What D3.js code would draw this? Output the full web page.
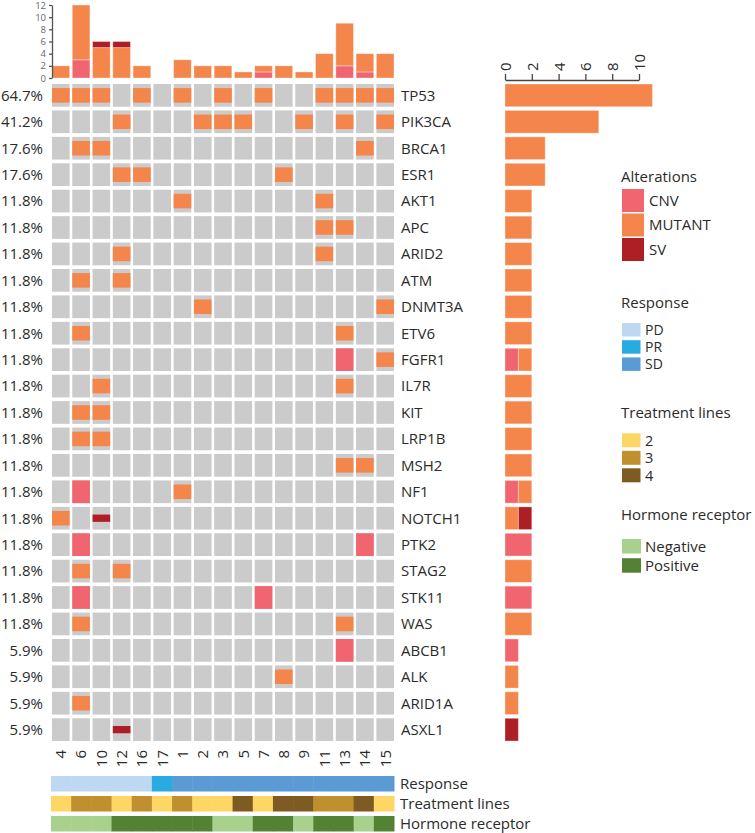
<!DOCTYPE html>
<html>
<head>
<meta charset="utf-8">
<script src="https://cdn.jsdelivr.net/npm/d3@7/dist/d3.min.js"></script>
<style>
  html, body { margin: 0; padding: 0; background: #ffffff; }
  svg { display: block; font-family: "Open Sans", "Noto Sans", sans-serif; }
</style>
</head>
<body>
<svg id="chart" width="755" height="833"></svg>
<script>
// ---------------- DATA ----------------
const samples = ["4","6","10","12","16","17","1","2","3","5","7","8","9","11","13","14","15"];
const genes = ["TP53","PIK3CA","BRCA1","ESR1","AKT1","APC","ARID2","ATM","DNMT3A","ETV6","FGFR1","IL7R","KIT","LRP1B","MSH2","NF1","NOTCH1","PTK2","STAG2","STK11","WAS","ABCB1","ALK","ARID1A","ASXL1"];
const percents = ["64.7%","41.2%","17.6%","17.6%","11.8%","11.8%","11.8%","11.8%","11.8%","11.8%","11.8%","11.8%","11.8%","11.8%","11.8%","11.8%","11.8%","11.8%","11.8%","11.8%","11.8%","5.9%","5.9%","5.9%","5.9%"];
// one string per gene, one character per sample: M = MUTANT, C = CNV, S = SV, . = none
const alterationRows = [
  "MMM.M.M.M.M..MMMM", // TP53
  "...M...MMM..M.M.M", // PIK3CA
  ".MM............M.", // BRCA1
  "...MM......M.....", // ESR1
  "......M......M...", // AKT1
  ".............MM..", // APC
  "...M.........M...", // ARID2
  ".M.M.............", // ATM
  ".......M........M", // DNMT3A
  ".M............M..", // ETV6
  "..............C.M", // FGFR1
  "..M...........M..", // IL7R
  ".MM..............", // KIT
  ".MM..............", // LRP1B
  "..............MM.", // MSH2
  ".C....M..........", // NF1
  "M.S..............", // NOTCH1
  ".C.............C.", // PTK2
  ".M.M.............", // STAG2
  ".C........C......", // STK11
  ".M............M..", // WAS
  "..............C..", // ABCB1
  "...........M.....", // ALK
  ".M...............", // ARID1A
  "...S............."  // ASXL1
];
const altTypes = ["CNV","MUTANT","SV"];
const altCodes = {C: "CNV", M: "MUTANT", S: "SV"};
const response = ["PD","PD","PD","PD","PD","PR","SD","SD","SD","SD","SD","SD","SD","SD","SD","SD","SD"];
const treatmentLines = ["2","3","3","2","3","2","3","2","2","4","2","4","4","3","3","4","2"];
const hormone = ["Negative","Negative","Negative","Positive","Positive","Positive","Positive","Positive","Negative","Negative","Positive","Positive","Negative","Positive","Positive","Negative","Positive"];
const topTicks = [0,2,4,6,8,10,12];
const rightTicks = [0,2,4,6,8,10];

// ---------------- STYLE ----------------
const altColor = {CNV: "#f0656f", MUTANT: "#f4854b", SV: "#ad1f25"};
const respColor = {PD: "#bdd8f0", PR: "#27abe1", SD: "#5b9bd5"};
const treatColor = {"2": "#fdd666", "3": "#bf902d", "4": "#7e5b23"};
const hormColor = {Negative: "#a9d18e", Positive: "#548235"};
const textColor = "#2b2b2b";
const FS = 15;

const svg = d3.select("#chart");

// ---------------- SCALES ----------------
const x = d3.scaleBand().domain(samples).range([52, 394]).paddingInner(0.13).paddingOuter(0);
const y = d3.scaleBand().domain(genes).range([84, 741]).paddingInner(0.14).paddingOuter(0);
const xAnn = d3.scaleBand().domain(samples).range([51, 394]).padding(0);
const yTop = d3.scaleLinear().domain([0, 12]).range([78, 5]);
const xRight = d3.scaleLinear().domain([0, 10]).range([505, 639]);

// derived counts (by counting the matrix)
const cells = [];
alterationRows.forEach((row, gi) => {
  row.split("").forEach((c, si) => {
    cells.push({gene: genes[gi], sample: samples[si], type: altCodes[c] || null});
  });
});
const sampleCounts = samples.map(s => {
  const o = {sample: s, CNV: 0, MUTANT: 0, SV: 0};
  cells.filter(d => d.sample === s && d.type).forEach(d => o[d.type]++);
  return o;
});
const geneCounts = genes.map(g => {
  const o = {gene: g, CNV: 0, MUTANT: 0, SV: 0};
  cells.filter(d => d.gene === g && d.type).forEach(d => o[d.type]++);
  return o;
});
const stack = d3.stack().keys(altTypes);

// ---------------- TOP BAR CHART ----------------
const topG = svg.append("g");
stack(sampleCounts).forEach(layer => {
  topG.selectAll(null).data(layer.filter(d => d[1] > d[0])).join("rect")
    .attr("x", d => x(d.data.sample))
    .attr("width", x.bandwidth())
    .attr("y", d => yTop(d[1]))
    .attr("height", d => yTop(d[0]) - yTop(d[1]))
    .attr("fill", altColor[layer.key])
    .attr("stroke", "#ffffff").attr("stroke-opacity", 0.35).attr("stroke-width", 1);
});
const topAxis = svg.append("g").attr("transform", "translate(52,0)")
  .call(d3.axisLeft(yTop).tickValues(topTicks).tickSize(3).tickSizeOuter(0));
topAxis.selectAll("path, line").attr("stroke", "#555").attr("stroke-width", 1.3);
topAxis.selectAll("text").attr("font-size", 9.5).attr("fill", "#666").attr("font-family", "Open Sans");

// ---------------- ONCOPRINT GRID ----------------
const grid = svg.append("g");
grid.selectAll("rect.bg").data(cells).join("rect").attr("class", "bg")
  .attr("x", d => x(d.sample)).attr("y", d => y(d.gene))
  .attr("width", x.bandwidth()).attr("height", y.bandwidth())
  .attr("fill", "#cbcbcb");
const altHeight = {CNV: 1, MUTANT: 0.64, SV: 0.32};
grid.selectAll("rect.alt").data(cells.filter(d => d.type)).join("rect").attr("class", "alt")
  .attr("x", d => x(d.sample))
  .attr("width", x.bandwidth())
  .attr("y", d => y(d.gene) + y.bandwidth() * (1 - altHeight[d.type]) / 2)
  .attr("height", d => y.bandwidth() * altHeight[d.type])
  .attr("fill", d => altColor[d.type]);

// percent labels
svg.append("g").selectAll("text").data(genes).join("text")
  .attr("x", 43).attr("y", d => y(d) + y.bandwidth() / 2)
  .attr("dy", "0.36em").attr("text-anchor", "end")
  .attr("font-size", FS).attr("fill", textColor)
  .text((d, i) => percents[i]);

// gene labels
svg.append("g").selectAll("text").data(genes).join("text")
  .attr("x", 401).attr("y", d => y(d) + y.bandwidth() / 2)
  .attr("dy", "0.36em").attr("text-anchor", "start")
  .attr("font-size", FS).attr("fill", textColor)
  .text(d => d);

// sample labels (rotated)
svg.append("g").selectAll("text").data(samples).join("text")
  .attr("transform", d => `translate(${x(d) + x.bandwidth() / 2},750) rotate(-90)`)
  .attr("dy", "0.36em").attr("text-anchor", "end")
  .attr("font-size", FS).attr("fill", textColor)
  .text(d => d);

// ---------------- ANNOTATION TRACKS ----------------
const tracks = [
  {name: "Response", values: response, colors: respColor, y: 776},
  {name: "Treatment lines", values: treatmentLines, colors: treatColor, y: 796},
  {name: "Hormone receptor", values: hormone, colors: hormColor, y: 816}
];
const trackH = 15.5;
tracks.forEach(t => {
  const g = svg.append("g");
  g.selectAll("rect").data(samples).join("rect")
    .attr("x", d => xAnn(d)).attr("width", xAnn.bandwidth() + 0.5)
    .attr("y", t.y).attr("height", trackH)
    .attr("fill", (d, i) => t.colors[t.values[i]]);
  g.append("text").attr("x", 400).attr("y", t.y + trackH / 2).attr("dy", "0.36em")
    .attr("font-size", FS).attr("fill", textColor).text(t.name);
});

// ---------------- RIGHT BAR CHART ----------------
const rightG = svg.append("g");
stack(geneCounts).forEach(layer => {
  rightG.selectAll(null).data(layer.filter(d => d[1] > d[0])).join("rect")
    .attr("y", d => y(d.data.gene))
    .attr("height", y.bandwidth())
    .attr("x", d => xRight(d[0]))
    .attr("width", d => xRight(d[1]) - xRight(d[0]))
    .attr("fill", altColor[layer.key])
    .attr("stroke", "#ffffff").attr("stroke-opacity", 0.35).attr("stroke-width", 1);
});
const rAxis = svg.append("g").attr("transform", "translate(0,80)")
  .call(d3.axisTop(xRight).tickValues(rightTicks).tickSize(6).tickSizeOuter(0));
rAxis.selectAll("path, line").attr("stroke", "#444").attr("stroke-width", 1.3);
rAxis.selectAll("text")
  .attr("transform", "rotate(-90)")
  .attr("x", 9).attr("y", 0).attr("dy", "0.36em")
  .attr("text-anchor", "start")
  .attr("font-size", FS).attr("fill", textColor).attr("font-family", "Open Sans");

// ---------------- LEGENDS ----------------
const legends = [
  {title: "Alterations", keys: altTypes, colors: altColor, titleY: 182, startY: 189, w: 22, h: 23, pitch: 24.5, labelX: 649, fs: FS},
  {title: "Response", keys: ["PD","PR","SD"], colors: respColor, titleY: 308, startY: 323, w: 18.5, h: 13.5, pitch: 17.2, labelX: 645, fs: 14},
  {title: "Treatment lines", keys: ["2","3","4"], colors: treatColor, titleY: 418, startY: 433.3, w: 18.5, h: 14, pitch: 17.5, labelX: 645, fs: 14.5},
  {title: "Hormone receptor", keys: ["Negative","Positive"], colors: hormColor, titleY: 520, startY: 539, w: 19, h: 14.5, pitch: 19.2, labelX: 645, fs: FS}
];
legends.forEach(L => {
  const g = svg.append("g");
  g.append("text").attr("x", 621).attr("y", L.titleY)
    .attr("font-size", FS).attr("fill", textColor).text(L.title);
  g.selectAll("rect").data(L.keys).join("rect")
    .attr("x", 622).attr("y", (d, i) => L.startY + i * L.pitch)
    .attr("width", L.w).attr("height", L.h)
    .attr("fill", d => L.colors[d]);
  g.selectAll("text.lab").data(L.keys).join("text").attr("class", "lab")
    .attr("x", L.labelX).attr("y", (d, i) => L.startY + i * L.pitch + L.h / 2)
    .attr("dy", "0.36em").attr("font-size", L.fs).attr("fill", textColor)
    .text(d => d);
});
</script>
</body>
</html>
